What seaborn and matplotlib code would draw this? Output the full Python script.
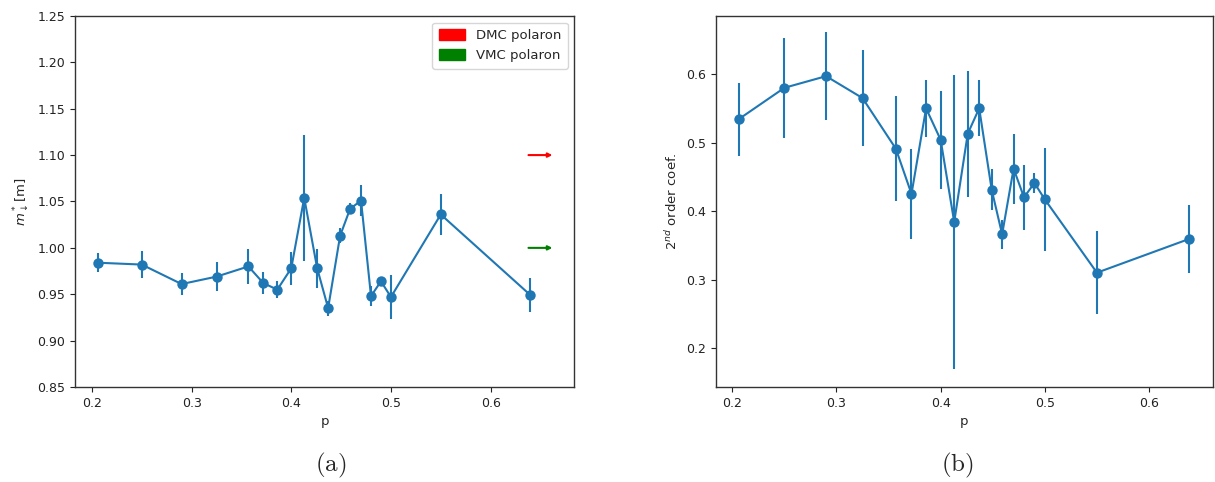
import numpy as np
import pandas as pd
import matplotlib
matplotlib.use("Agg")
import matplotlib.pyplot as plt
import matplotlib.patches as mpatches
import seaborn as sns

# ---- data ----
p_a = [0.206, 0.25, 0.29, 0.325, 0.357, 0.372, 0.386, 0.400, 0.413, 0.426,
       0.437, 0.449, 0.459, 0.470, 0.480, 0.490, 0.500, 0.550, 0.640]
mass = [0.984, 0.982, 0.961, 0.969, 0.980, 0.962, 0.955, 0.978, 1.054, 0.978,
        0.935, 1.013, 1.042, 1.051, 0.948, 0.964, 0.947, 1.036, 0.949]
mass_err = [0.010, 0.015, 0.012, 0.016, 0.019, 0.012, 0.009, 0.018, 0.068, 0.021,
            0.008, 0.008, 0.006, 0.017, 0.011, 0.004, 0.024, 0.022, 0.018]

p_b = [0.206, 0.25, 0.29, 0.325, 0.357, 0.372, 0.386, 0.400, 0.413, 0.426,
       0.437, 0.449, 0.459, 0.470, 0.480, 0.490, 0.500, 0.550, 0.638]
coef = [0.534, 0.580, 0.597, 0.565, 0.491, 0.425, 0.550, 0.504, 0.384, 0.513,
        0.550, 0.431, 0.366, 0.462, 0.420, 0.441, 0.417, 0.310, 0.359]
coef_err = [0.053, 0.073, 0.064, 0.070, 0.077, 0.066, 0.042, 0.072, 0.215, 0.092,
            0.041, 0.030, 0.021, 0.051, 0.047, 0.015, 0.075, 0.061, 0.050]

ref_labels = ["DMC polaron", "VMC polaron"]
ref_values = [1.10, 1.00]
ref_colors = ["red", "green"]

# ---- figure ----
sns.set_style("ticks")
plt.rcParams["font.family"] = ["DejaVu Sans"]
plt.rcParams["mathtext.fontset"] = "dejavusans"
blue = "#1f77b4"

fig = plt.figure(figsize=(12.15, 4.82), dpi=100)
ax1 = fig.add_axes([0.0617, 0.197, 0.411, 0.770])
ax2 = fig.add_axes([0.589, 0.197, 0.409, 0.770])

df_a = pd.DataFrame({"p": p_a, "m": mass, "e": mass_err})
df_b = pd.DataFrame({"p": p_b, "c": coef, "e": coef_err})

for ax, df, ycol in [(ax1, df_a, "m"), (ax2, df_b, "c")]:
    ax.errorbar(df["p"], df[ycol], yerr=df["e"], fmt="none", ecolor=blue,
                elinewidth=1.5, zorder=2)
    sns.lineplot(data=df, x="p", y=ycol, ax=ax, color=blue, marker="o",
                 markersize=7.5, markeredgewidth=0, linewidth=1.5,
                 sort=False, estimator=None, zorder=3)
    for s in ax.spines.values():
        s.set_color("#333333")
        s.set_linewidth(1.0)
    ax.tick_params(labelsize=9, colors="#222222", length=3.5, width=0.8)
    ax.set_xlabel("p", fontsize=9.5)

# reference arrows
for val, col in zip(ref_values, ref_colors):
    ax1.annotate("", xy=(0.662, val), xytext=(0.638, val),
                 arrowprops=dict(arrowstyle="-|>", color=col, lw=1.5,
                                 mutation_scale=6, shrinkA=0, shrinkB=0))

handles = [mpatches.Patch(color=c, label=l) for c, l in zip(ref_colors, ref_labels)]
ax1.legend(handles=handles, loc="upper right", fontsize=9.5, frameon=True,
           handlelength=2.0, handleheight=0.9, borderpad=0.5, labelspacing=0.55)

ax1.set_xlim(0.183, 0.684)
ax1.set_ylim(0.85, 1.25)
ax1.set_yticks(np.arange(0.85, 1.2501, 0.05))
ax1.set_xticks([0.2, 0.3, 0.4, 0.5, 0.6])
ax1.set_ylabel(r"$m^*_{\downarrow}$[m]", fontsize=9.5)

ax2.set_xlim(0.184, 0.661)
ax2.set_ylim(0.143, 0.685)
ax2.set_yticks([0.2, 0.3, 0.4, 0.5, 0.6])
ax2.set_xticks([0.2, 0.3, 0.4, 0.5, 0.6])
ax2.set_ylabel(r"$2^{nd}$ order coef.", fontsize=9.5)

fig.text(0.272, 0.035, r"$\mathrm{(a)}$", ha="center", va="center", fontsize=18,
         math_fontfamily="cm")
fig.text(0.788, 0.035, r"$\mathrm{(b)}$", ha="center", va="center", fontsize=18,
         math_fontfamily="cm")

fig.savefig("out.png", dpi=100)
